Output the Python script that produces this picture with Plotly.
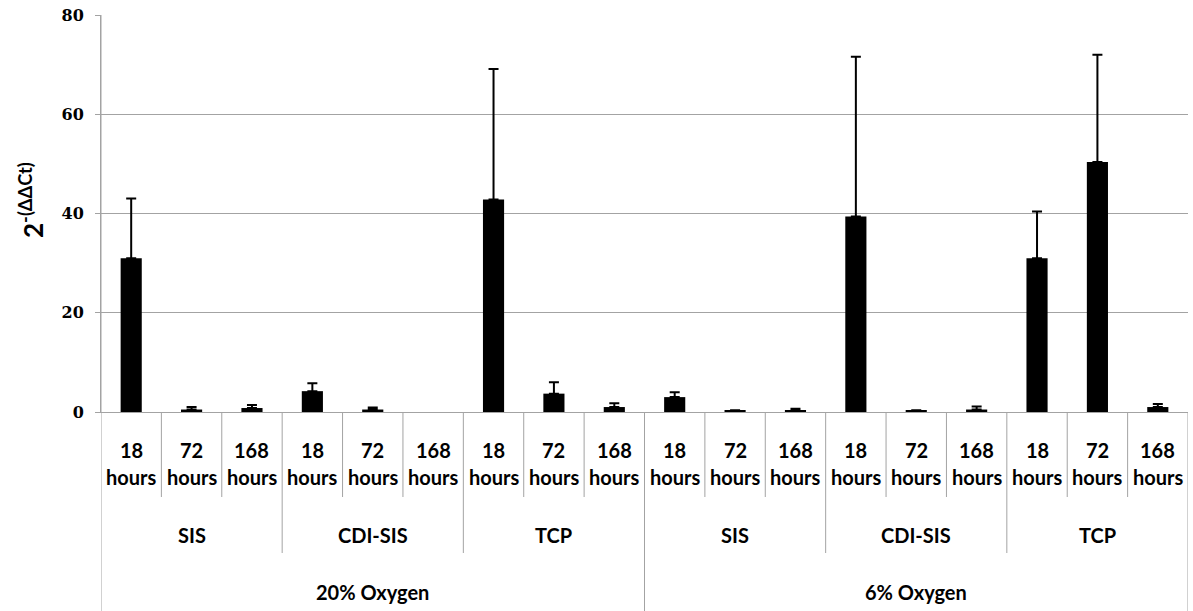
import plotly.graph_objects as go

# ---- data -------------------------------------------------------------
oxygen_levels = ["20% Oxygen", "6% Oxygen"]
materials = ["SIS", "CDI-SIS", "TCP"]
time_points = ["18", "72", "168"]

# 2^-(ddCt) means, ordered oxygen -> material -> time
fold_change = [31.0, 0.5, 0.8, 4.2, 0.5, 0.0, 42.8, 3.7, 1.0,
               3.0, 0.3, 0.35, 39.4, 0.3, 0.5, 31.0, 50.4, 1.0]
# upper error bars (plus direction only)
fold_error = [12.0, 0.5, 0.6, 1.6, 0.4, 0.0, 26.3, 2.3, 0.75,
              1.0, 0.05, 0.3, 32.2, 0.05, 0.6, 9.4, 21.6, 0.6]

# ---- geometry ---------------------------------------------------------
W, H = 1193, 611
M_L, M_R, M_T, M_B = 101, 5, 15, 199
PLOT_H = H - M_T - M_B
BASE_PX = M_T + PLOT_H


def paper_y(px):
    """Convert a pixel row on the page into a paper y coordinate."""
    return (BASE_PX - px) / PLOT_H


GRID = "#a3a3a3"
LABEL_FONT = dict(family="Lato", size=20, color="black")

n_t, n_m = len(time_points), len(materials)
n = len(fold_change)
xs = list(range(n))

# bars without a measurable value carry no error bar
has_bar = [v > 0 for v in fold_change]
bar_x = [x for x, h in zip(xs, has_bar) if h]
bar_y = [v for v, h in zip(fold_change, has_bar) if h]
bar_err = [e for e, h in zip(fold_error, has_bar) if h]

fig = go.Figure()
fig.add_trace(go.Bar(
    x=bar_x, y=bar_y, width=0.35,
    marker=dict(color="black", line=dict(width=0)),
    error_y=dict(type="data", array=bar_err, symmetric=False,
                 arrayminus=[0] * len(bar_err), color="black",
                 thickness=2, width=5),
    showlegend=False,
))

shapes = []
annotations = []

# time-point labels and their dividers
for i in xs:
    t = time_points[i % n_t]
    annotations.append(dict(x=i, y=paper_y(450), xref="x", yref="paper",
                            text="<b>%s</b>" % t, showarrow=False,
                            font=LABEL_FONT, xanchor="center", yanchor="middle"))
    annotations.append(dict(x=i, y=paper_y(477), xref="x", yref="paper",
                            text="<b>hours</b>", showarrow=False,
                            font=LABEL_FONT, xanchor="center", yanchor="middle"))
    if i < n - 1 and (i + 1) % n_t != 0:
        shapes.append(dict(type="line", xref="x", yref="paper",
                           x0=i + 0.5, x1=i + 0.5, y0=0, y1=paper_y(497),
                           line=dict(color=GRID, width=1)))

# material labels and dividers
groups = n // n_t
for g in range(groups):
    centre = g * n_t + (n_t - 1) / 2
    annotations.append(dict(x=centre, y=paper_y(535), xref="x", yref="paper",
                            text="<b>%s</b>" % materials[g % n_m], showarrow=False,
                            font=LABEL_FONT, xanchor="center", yanchor="middle"))
    edge = (g + 1) * n_t - 0.5
    if g < groups - 1 and (g + 1) % n_m != 0:
        shapes.append(dict(type="line", xref="x", yref="paper",
                           x0=edge, x1=edge, y0=0, y1=paper_y(553),
                           line=dict(color=GRID, width=1)))

# oxygen labels and dividers
per_ox = n_t * n_m
for k, ox in enumerate(oxygen_levels):
    centre = k * per_ox + (per_ox - 1) / 2
    annotations.append(dict(x=centre, y=paper_y(592), xref="x", yref="paper",
                            text="<b>%s</b>" % ox, showarrow=False,
                            font=LABEL_FONT, xanchor="center", yanchor="middle"))
for edge in [-0.5 + k * per_ox for k in range(len(oxygen_levels) + 1)]:
    shapes.append(dict(type="line", xref="x", yref="paper",
                       x0=edge, x1=edge, y0=0 if edge > -0.5 else 1,
                       y1=paper_y(H),
                       line=dict(color=GRID, width=1)))

# y-axis title with superscript
annotations.append(dict(x=0, y=paper_y(200), xref="paper", yref="paper",
                        xshift=-70, textangle=-90, showarrow=False,
                        text="<b>2<sup>-(ΔΔCt)</sup></b>",
                        font=dict(family="Lato", size=26, color="black"),
                        xanchor="center", yanchor="middle"))

fig.update_layout(
    width=W, height=H,
    margin=dict(l=M_L, r=M_R, t=M_T, b=M_B, pad=0),
    paper_bgcolor="white", plot_bgcolor="white",
    bargap=0.65,
    shapes=shapes, annotations=annotations,
    xaxis=dict(range=[-0.5, n - 0.5], showticklabels=False, ticks="",
               showgrid=False, zeroline=False, showline=True,
               linecolor=GRID, linewidth=1, fixedrange=True),
    yaxis=dict(range=[0, 80], tickvals=[0, 20, 40, 60, 80],
               ticks="outside", ticklen=5, tickcolor=GRID,
               showgrid=True, gridcolor=GRID, gridwidth=1,
               zeroline=False, showline=True, linecolor=GRID,
               ticklabelstandoff=8,
               tickfont=dict(family="DejaVu Serif", size=16, color="black",
                             weight="bold"),
               fixedrange=True),
)

fig.write_html("out.html", config={"displayModeBar": False})
